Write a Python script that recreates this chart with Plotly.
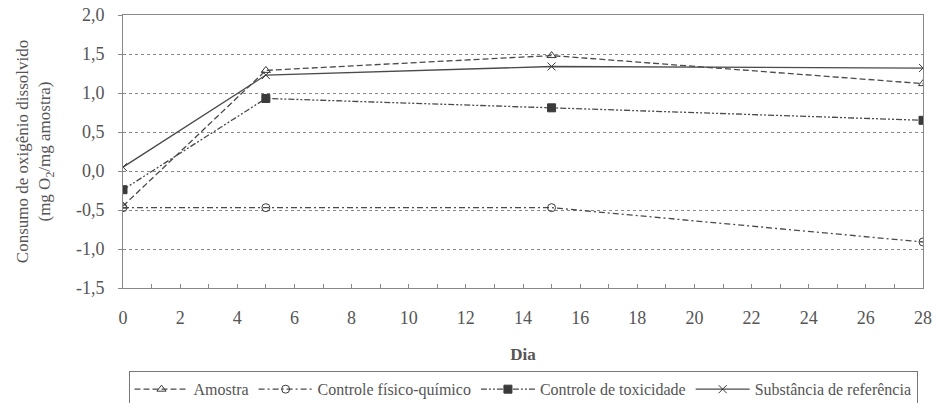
import plotly.graph_objects as go

dias = [0, 5, 15, 28]
amostra = [-0.45, 1.29, 1.48, 1.12]
controle_fq = [-0.47, -0.47, -0.47, -0.91]
controle_tox = [-0.24, 0.93, 0.81, 0.65]
substancia_ref = [0.05, 1.23, 1.34, 1.32]

y_ticks = [-1.5, -1.0, -0.5, 0.0, 0.5, 1.0, 1.5, 2.0]
y_labels = ["-1,5", "-1,0", "-0,5", "0,0", "0,5", "1,0", "1,5", "2,0"]

series = [
    ("Amostra", amostra, "6px,3px", "triangle-up-open"),
    ("Controle físico-químico", controle_fq, "6px,3px,2px,3px", "circle-open"),
    ("Controle de toxicidade", controle_tox, "6px,2px,2px,2px,2px,2px", "square"),
    ("Substância de referência", substancia_ref, "solid", "x-thin-open"),
]

FAM = "Liberation Serif"
GRAY = "#555555"

fig = go.Figure()
for name, vals, dash, sym in series:
    fig.add_trace(go.Scatter(
        x=dias, y=vals, name=name, mode="lines+markers",
        line=dict(color="#4a4a4a", width=1.3, dash=dash),
        marker=dict(symbol=sym, size=8, color="#3a3a3a",
                    line=dict(color="#3a3a3a", width=1)),
    ))

fig.update_layout(
    width=936, height=403,
    margin=dict(l=123, r=13, t=15, b=115, autoexpand=False),
    paper_bgcolor="white", plot_bgcolor="white",
    font=dict(family=FAM, size=16, color=GRAY),
    showlegend=True,
    legend=dict(orientation="h", x=0.5, xanchor="center", y=-0.305, yanchor="top",
                bordercolor="#777777", borderwidth=1,
                font=dict(family=FAM, size=16, color=GRAY),
                itemwidth=54, tracegroupgap=0),
    xaxis=dict(
        range=[0, 28], dtick=2, tick0=0, automargin=False,
        showgrid=False, zeroline=False,
        showline=True, linecolor="#888888", linewidth=1, mirror=True,
        ticks="inside", ticklen=4, tickcolor="#888888",
        minor=dict(dtick=1, ticks="inside", ticklen=4, tickcolor="#888888"),
        ticklabelstandoff=13, ticklabeloverflow="allow",
        title=dict(text="<b>Dia</b>", standoff=21, font=dict(family=FAM, size=17, color=GRAY)),
        tickfont=dict(family=FAM, size=18, color=GRAY),
    ),
    yaxis=dict(
        range=[-1.5, 2.0], tickvals=y_ticks, ticktext=y_labels, automargin=False,
        showgrid=True, gridcolor="#888888", griddash="dot", gridwidth=1,
        zeroline=False,
        showline=True, linecolor="#888888", linewidth=1, mirror=True,
        ticks="outside", ticklen=4, tickcolor="#888888",
        ticklabelstandoff=10, ticklabeloverflow="allow",
        title=dict(text="Consumo de oxigênio dissolvido<br>(mg O<sub>2</sub>/mg amostra)",
                   standoff=20, font=dict(family=FAM, size=17, color=GRAY)),
        tickfont=dict(family=FAM, size=18, color=GRAY),
    ),
)

fig.write_html("out.html", config={"displayModeBar": False},
               post_script="document.body.style.margin='0';")
